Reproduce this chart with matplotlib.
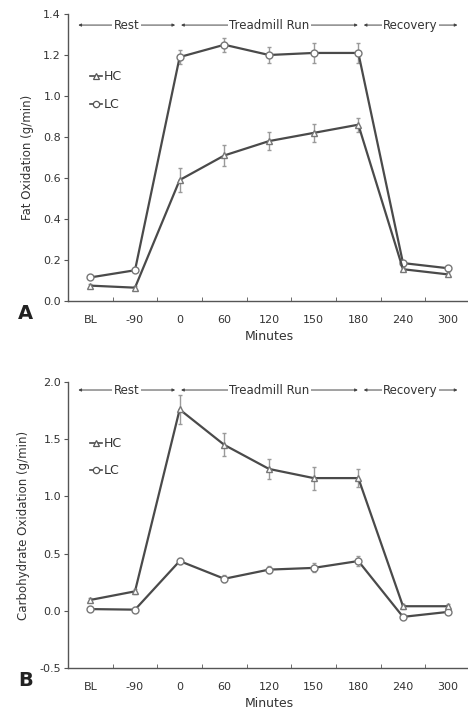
import matplotlib
matplotlib.use('Agg')
import matplotlib.pyplot as plt

# dados
categorias = ['BL', '-90', '0', '60', '120', '150', '180', '240', '300']

fat_hc = [0.075, 0.065, 0.59, 0.71, 0.78, 0.82, 0.86, 0.155, 0.13]
fat_hc_err = [0.01, 0.01, 0.06, 0.05, 0.045, 0.045, 0.035, 0.01, 0.01]
fat_lc = [0.115, 0.15, 1.19, 1.25, 1.20, 1.21, 1.21, 0.185, 0.16]
fat_lc_err = [0.01, 0.01, 0.035, 0.035, 0.04, 0.05, 0.05, 0.01, 0.01]

cho_hc = [0.095, 0.17, 1.76, 1.45, 1.24, 1.16, 1.16, 0.04, 0.04]
cho_hc_err = [0.02, 0.02, 0.13, 0.10, 0.09, 0.10, 0.08, 0.02, 0.02]
cho_lc = [0.015, 0.01, 0.435, 0.28, 0.36, 0.375, 0.435, -0.053, -0.01]
cho_lc_err = [0.02, 0.02, 0.03, 0.03, 0.03, 0.04, 0.04, 0.02, 0.02]

fases = ['Rest', 'Treadmill Run', 'Recovery']
fases_ini = [-0.27, 2.03, 6.12]
fases_fim = [1.90, 5.99, 8.22]

COR_LINHA = '#4a4a4a'
COR_ERRO = '#9a9a9a'
x = list(range(len(categorias)))


def desenha_painel(ax, hc, hc_err, lc, lc_err, ylim, yticks, ylabel, letra, y_fase, y_leg):
    for vals, err, mk in [(lc, lc_err, 'o'), (hc, hc_err, '^')]:
        ax.errorbar(x, vals, yerr=err, fmt='none', ecolor=COR_ERRO, elinewidth=1.0,
                    capsize=1.5, capthick=1.0, zorder=2)
        ax.plot(x, vals, color=COR_LINHA, lw=1.6, marker=mk, ms=5,
                mfc='white', mec='#777777', mew=1.0, zorder=3)

    ax.set_xlim(-0.5, 8.5)
    ax.set_ylim(*ylim)
    ax.set_yticks(yticks)
    ax.set_yticklabels([f'{t:.1f}' for t in yticks], fontsize=8, color='#333333')
    ax.set_xticks(x)
    ax.set_xticklabels(categorias, fontsize=8, color='#333333')
    ax.set_xticks([i + 0.5 for i in range(8)], minor=True)
    ax.tick_params(axis='x', which='major', length=0, pad=10)
    ax.tick_params(axis='x', which='minor', direction='in', length=3, color='#555555')
    ax.tick_params(axis='y', length=3, width=0.8, color='#555555', pad=2)
    for s in ['top', 'right']:
        ax.spines[s].set_visible(False)
    for s in ['left', 'bottom']:
        ax.spines[s].set_color('#555555')
        ax.spines[s].set_linewidth(1.0)
    ax.set_ylabel(ylabel, fontsize=8.5, color='#333333', labelpad=7)
    ax.set_xlabel('Minutes', fontsize=9, color='#333333', labelpad=4)

    # setas das fases
    for nome, a, b in zip(fases, fases_ini, fases_fim):
        ax.annotate('', xy=(a, y_fase), xytext=(b, y_fase),
                    arrowprops=dict(arrowstyle='<|-|>', color='#444444', lw=0.7,
                                    mutation_scale=4, shrinkA=0, shrinkB=0))
        ax.text((a + b) / 2, y_fase, nome, ha='center', va='center', fontsize=8.5,
                color='#333333', bbox=dict(fc='white', ec='none', pad=1))

    # legenda manual
    for lab, mk, yy in [('HC', '^', y_leg[0]), ('LC', 'o', y_leg[1])]:
        ax.plot([0.0, 0.25], [yy, yy], color=COR_LINHA, lw=1.2)
        ax.plot([0.13], [yy], marker=mk, ms=4.5, mfc='white', mec='#555555', mew=0.9)
        ax.text(0.3, yy, lab, ha='left', va='center', fontsize=9, color='#333333')

    ax.text(-0.105, -0.012, letra, transform=ax.transAxes, fontsize=14,
            fontweight='bold', ha='center', va='top', color='#222222')


fig = plt.figure(figsize=(4.68, 7.13), dpi=100)
ax1 = fig.add_axes([68 / 468, 1 - 301 / 713, 402 / 468, 287 / 713])
ax2 = fig.add_axes([68 / 468, 1 - 668 / 713, 402 / 468, 286 / 713])

desenha_painel(ax1, fat_hc, fat_hc_err, fat_lc, fat_lc_err, (0.0, 1.4),
               [0.0, 0.2, 0.4, 0.6, 0.8, 1.0, 1.2, 1.4], 'Fat Oxidation (g/min)', 'A',
               1.346, (1.096, 0.96))
desenha_painel(ax2, cho_hc, cho_hc_err, cho_lc, cho_lc_err, (-0.5, 2.0),
               [-0.5, 0.0, 0.5, 1.0, 1.5, 2.0], 'Carbohydrate Oxidation (g/min)', 'B',
               1.93, (1.465, 1.23))

plt.savefig('out.png', dpi=100)
